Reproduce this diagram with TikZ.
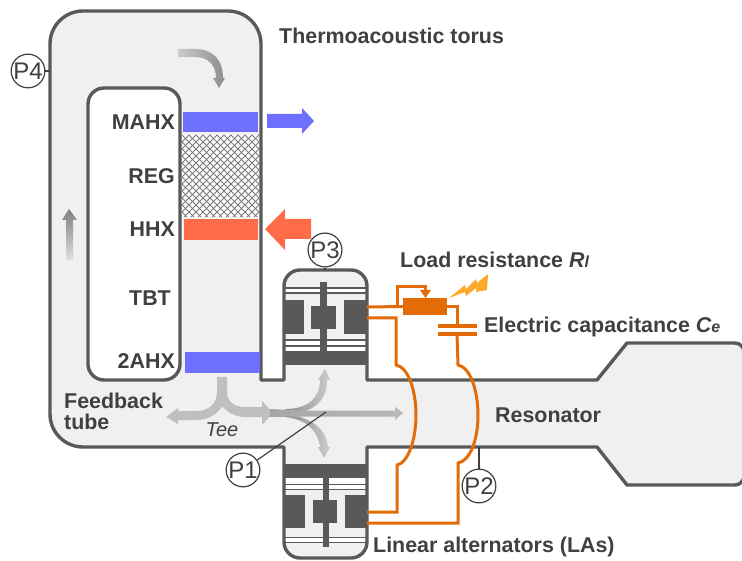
\documentclass[tikz,border=0pt]{standalone}
\usepackage{fontspec}
\setmainfont{Liberation Sans}
\usetikzlibrary{positioning}
\definecolor{wallgray}{HTML}{595959}
\definecolor{ductgray}{HTML}{F0F0F0}
\definecolor{txtgray}{HTML}{404040}
\definecolor{coldblue}{HTML}{6F6FFF}
\definecolor{hotred}{HTML}{FF6C47}
\definecolor{wireorange}{HTML}{E36C09}
\definecolor{sparkorange}{HTML}{FFA92B}
\newcommand{\lblfont}{\fontsize{21.4}{21.4}\selectfont\bfseries}
\newcommand{\subfont}{\fontsize{16}{16}\selectfont}
\tikzset{
  wall/.style={draw=wallgray, line width=3.4pt},
  wire/.style={draw=wireorange, line width=3pt, line join=miter},
  lbl/.style={anchor=base west, inner sep=0pt, text=txtgray, font=\lblfont},
  hxlbl/.style={anchor=base east, inner sep=0pt, text=txtgray, font=\lblfont},
  gauge/.style={circle, draw=txtgray, line width=1.2pt, fill=white, minimum size=31pt,
    inner sep=0pt, text=txtgray, font=\fontsize{24}{24}\selectfont},
  leader/.style={draw=txtgray, line width=1.2pt},
  core/.style={fill=wallgray, draw=none},
  band/.style={fill=white, draw=none}
}
\begin{document}
\begin{tikzpicture}[x=1pt, y=-1pt]
  \useasboundingbox (0,0) rectangle (742,561);
  % Duct outline
  \draw[wall, fill=ductgray, line join=round]
    (100,11) [rounded corners=33pt] -- (261,11) [sharp corners] -- (261,380) -- (284,380)
    [rounded corners=16pt] -- (284,270) -- (367,270) [sharp corners] -- (367,380)
    -- (597,380) -- (627,343) [rounded corners=9pt] -- (744,343) -- (744,485)
    [sharp corners] -- (627,485) -- (597,447) -- (367,447)
    [rounded corners=16pt] -- (367,558) -- (284,558) [sharp corners] -- (284,447)
    [rounded corners=33pt] -- (50,447) -- (50,11) [sharp corners] -- cycle;
  \draw[wall, fill=white, rounded corners=16pt] (88,88) rectangle (180,380);
  % Regenerator
  \fill[white] (182,135) rectangle (259,217);
  \begin{scope}
    \clip (182,135) rectangle (259,217);
    \foreach \i in {-12,...,12}
      \draw[gray!95!black, line width=0.9pt] ({182+7*\i},135) -- ({264+7*\i},217);
    \foreach \i in {0,...,24}
      \draw[gray!95!black, line width=0.9pt] ({182+7*\i},135) -- ({100+7*\i},217);
  \end{scope}
  % Heat exchangers
  \fill[coldblue] (183,112) rectangle (258,132);
  \fill[hotred] (184,219) rectangle (258,240);
  \fill[coldblue] (185,352) rectangle (260,373);
  \node[hxlbl] (MAHX) at (175,130) {MAHX};
  \node[hxlbl] (REG) at (175,184) {REG};
  \node[hxlbl] (HHX) at (175,237) {HHX};
  \node[hxlbl] (TBT) at (171,306) {TBT};
  \node[hxlbl] (AHX) at (175,369) {2AHX};
  % Heat flow arrows
  \fill[coldblue] (267,114) -- (302,114) -- (302,108) -- (314,121) -- (302,134)
    -- (302,128) -- (267,128) -- cycle;
  \fill[hotred] (311,219) -- (285,219) -- (285,209) -- (265,229) -- (285,250)
    -- (285,239) -- (311,239) -- cycle;
  % Flow arrows
  \shade[left color=gray!40, right color=gray!110!black] (178,49) -- (195,49)
    .. controls (213,49) and (223,60) .. (223,78) -- (225,78) -- (219,88) -- (213,78)
    -- (216,78) .. controls (216,65) and (208,57) .. (195,57) -- (178,57) -- cycle;
  \shade[top color=gray, bottom color=gray!25] (66,260) -- (66,220) -- (62,220)
    -- (69,209) -- (77,220) -- (73,220) -- (73,260) -- cycle;
  \shade[left color=gray!50, middle color=gray!130!black, right color=gray!50]
    (217,377) -- (217,392) .. controls (217,404) and (208,411) .. (197,411) -- (178,411)
    -- (178,408) -- (166,417) -- (178,424) -- (178,420) -- (197,420)
    .. controls (208,420) and (218,414) .. (222,406)
    .. controls (228,413) and (236,417) .. (245,417) -- (262,417) -- (262,425)
    -- (273,413) -- (262,401) -- (262,407) -- (245,407)
    .. controls (235,407) and (227,402) .. (227,392) -- (227,377) -- cycle;
  \shade[left color=gray!110!black, right color=gray!40] (285,409)
    .. controls (308,409) and (320,398) .. (320,380) -- (318,380) -- (325,369)
    -- (330,380) -- (327,380) .. controls (327,402) and (312,413) .. (290,413) -- cycle;
  \shade[left color=gray!110!black, right color=gray!40] (285,414)
    .. controls (305,416) and (326,425) .. (328,447) -- (330,447) -- (324,458)
    -- (318,447) -- (320,447) .. controls (318,430) and (305,419) .. (285,417) -- cycle;
  \shade[left color=gray!130!black, right color=gray!55] (270,409) -- (300,410.5) -- (395,410.5)
    -- (395,407) -- (403,413) -- (395,420) -- (395,416.5) -- (300,416.5) -- (270,417) -- cycle;
  % Upper alternator
  \fill[band] (286,289) rectangle (365,293);
  \fill[band] (286,341) rectangle (365,345);
  \fill[band] (286,347) rectangle (365,351);
  \fill[core] (285,287.5) rectangle (366,289.2);
  \fill[core] (285,292.5) rectangle (366,294.2);
  \fill[core] (285,339.5) rectangle (366,341.2);
  \fill[core] (285,345) rectangle (366,346.7);
  \fill[core] (285,351) rectangle (366,365);
  \fill[core] (320,282) rectangle (327,351);
  \fill[core] (311,306) rectangle (336,329);
  \fill[core] (285,300) rectangle (304,334);
  \fill[core] (344,300) rectangle (366,334);
  % Lower alternator
  \fill[band] (286,478) rectangle (365,484);
  \fill[band] (286,485) rectangle (365,489);
  \fill[band] (286,538) rectangle (365,542);
  \fill[core] (285,464) rectangle (366,478);
  \fill[core] (285,483.5) rectangle (366,485.2);
  \fill[core] (285,488.5) rectangle (366,490.2);
  \fill[core] (285,536.5) rectangle (366,538.2);
  \fill[core] (285,541.5) rectangle (366,543.2);
  \fill[core] (323,478) rectangle (329,547);
  \fill[core] (313,500) rectangle (337,523);
  \fill[core] (285,495) rectangle (305,528);
  \fill[core] (345,495) rectangle (366,528);
  % Load circuit
  \node[fill=wireorange, minimum width=44pt, minimum height=17pt, inner sep=0pt] (LR) at (425,306.5) {};
  \coordinate (CT) at (457,326);
  \coordinate (CB) at (457,334);
  \draw[wire] (367,307) -- (LR.west);
  \draw[wire] (397,307) -- (397,287) -- (425,287) -- (425,291);
  \fill[wireorange] (420,290) -- (431,290) -- (425.5,298) -- cycle;
  \draw[wire] (LR.east) -- (457,306.5) -- (CT);
  \fill[wireorange] (438,324) rectangle (477,328);
  \fill[wireorange] (438,332) rectangle (477,336);
  \draw[wire] (CB) -- (458,365) .. controls (470,367) and (478,390) .. (478,415)
    .. controls (478,440) and (470,461) .. (458,463) -- (458,523) -- (367,523);
  \draw[wire] (367,318) -- (396,318) -- (396,365) .. controls (408,367) and (416,390) .. (416,415)
    .. controls (416,440) and (408,463) .. (397,465) -- (397,512) -- (367,512);
  \fill[sparkorange] (449,298) -- (465,285) -- (466,289) -- (476,279) -- (477,283)
    -- (488,274) -- (487,290) -- (476,292) -- (476,288) -- (466,296) -- (465,292) -- cycle;
  % Gauges
  \node[gauge] (P4) at (28,71) {P4};
  \node[gauge] (P3) at (325,250) {P3};
  \node[gauge] (P1) at (243,470) {P1};
  \node[gauge] (P2) at (479,486) {P2};
  \coordinate (P4end) at (50,71);
  \coordinate (P3end) at (325,270);
  \coordinate (P1end) at (326,412);
  \coordinate (P2end) at (479,447);
  \draw[leader] (P4) -- (P4end);
  \draw[leader] (P3) -- (P3end);
  \draw[leader] (P1) -- (P1end);
  \draw[leader] (P2) -- (P2end);
  % Labels
  \node[lbl] (torus) at (279,44) {Thermoacoustic torus};
  \node[lbl] (load) at (400,268) {Load resistance {\itshape R{\subfont l}}};
  \node[lbl] (cap) at (484,333) {Electric capacitance {\itshape C{\subfont e}}};
  \node[lbl] (res) at (495,422) {Resonator};
  \node[lbl] (LAs) at (373,552) {Linear alternators (LAs)};
  \node[lbl] (fb1) at (64,408) {Feedback};
  \node[lbl] (fb2) at (64,429) {tube};
  \node[anchor=base, inner sep=0pt, text=txtgray, font=\fontsize{20}{20}\selectfont\itshape] (tee) at (222,436) {Tee};
\end{tikzpicture}
\end{document}
